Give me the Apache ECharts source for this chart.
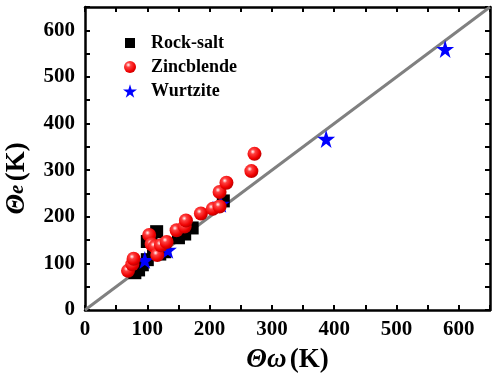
<!DOCTYPE html>
<html>
<head>
<meta charset="utf-8">
<script src="https://cdn.jsdelivr.net/npm/echarts@6/dist/echarts.min.js"></script>
<style>html,body{margin:0;padding:0;background:#fff}#c{width:500px;height:374px}</style>
</head>
<body>
<div id="c"></div>
<script>
var rockSalt = [[80,80],[86,86],[92,97],[100,108],[100,147],[106,152],[115,168],[110,130],[120,120],[128,125],[150,155],[160,163],[172,176],[222,234]];
var zincblende = [[69,84],[76,98],[78,110],[103,161],[107,141],[112,136],[116,118],[122,139],[131,146],[147,171],[160,179],[162,192],[186,207],[205,217],[216,222],[216,253],[227,273],[267,298],[272,335]];
var wurtzite = [[96,107],[133,129],[218,228],[387,367],[578,560]];
var diagonal = [[0,0],[650,650]];
var seriesNames = ['Rock-salt','Zincblende','Wurtzite'];

var serif = '"Liberation Serif","DejaVu Serif",serif';
var star = 'path://M50,0 L61,35 L98,35 L68,57 L79,91 L50,70 L21,91 L32,57 L2,35 L39,35 Z';
var legendSquare = 'path://M0,0 M14,14 M2,2 L12,2 L12,12 L2,12 Z';
var legendCircle = 'path://M0,0 M14,14 M13,7 A6,6 0 1 1 1,7 A6,6 0 1 1 13,7 Z';
var sphere = {type:'radial', x:0.38, y:0.35, r:0.7, colorStops:[{offset:0,color:'#ffffff'},{offset:0.25,color:'#ff4040'},{offset:0.7,color:'#ee0000'},{offset:1,color:'#b00000'}]};

var axisCommon = {
  min:0, max:650, interval:50,
  axisLine:{show:true, onZero:false, lineStyle:{color:'#000', width:2.5}},
  axisTick:{show:true, inside:true, length:5, lineStyle:{color:'#000', width:2}},
  splitLine:{show:false}
};
function lbl(show){
  return {show:show, color:'#000', fontFamily:serif, fontWeight:'bold', fontSize:21,
    formatter:function(v){return v%100===0 ? String(v) : '';}};
}
var italic = {fontFamily:serif, fontStyle:'italic', fontWeight:'bold', fontSize:27, color:'#000'};
var normal = {fontFamily:serif, fontWeight:'bold', fontSize:27, color:'#000'};

var chart = echarts.init(document.getElementById('c'), null, {renderer:'canvas'});
chart.setOption({
  animation:false,
  grid:{left:85, right:10, top:7, bottom:64, containLabel:false, outerBoundsMode:'none'},
  legend:{
    data:[{name:seriesNames[0], icon:legendSquare},{name:seriesNames[1], icon:legendCircle},{name:seriesNames[2], icon:star}],
    orient:'vertical', left:118, top:29, itemWidth:14, itemHeight:14, itemGap:6,
    textStyle:{fontFamily:serif, fontWeight:'bold', fontSize:18, lineHeight:18, color:'#000', padding:[0,0,0,9]}
  },
  xAxis:[
    Object.assign({type:'value', position:'bottom', axisLabel:Object.assign(lbl(true),{margin:9}),
      name:'{i|Θ}{i|ω} {n|(K)}', nameLocation:'middle', nameGap:37,
      nameTextStyle:{rich:{i:italic, n:normal}}
    }, axisCommon),
    Object.assign({type:'value', position:'top', axisLabel:lbl(false)}, axisCommon)
  ],
  yAxis:[
    Object.assign({type:'value', position:'left', axisLabel:Object.assign(lbl(true),{margin:10}),
      name:'{i|Θ}{s|e} {n|(K)}', nameLocation:'middle', nameGap:54,
      nameTextStyle:{padding:[0,40,0,0], rich:{i:italic, s:{fontFamily:serif, fontStyle:'italic', fontWeight:'bold', fontSize:21, color:'#000'}, n:normal}}
    }, axisCommon),
    Object.assign({type:'value', position:'right', axisLabel:lbl(false)}, axisCommon)
  ],
  series:[
    {type:'line', data:diagonal, symbol:'none', silent:true, lineStyle:{color:'#808080', width:3}, z:1},
    {name:seriesNames[0], type:'scatter', data:rockSalt, symbol:'rect', symbolSize:13, itemStyle:{color:'#000', opacity:1}, emphasis:{disabled:true}, z:2},
    {name:seriesNames[2], type:'scatter', data:wurtzite, symbol:star, symbolSize:18, itemStyle:{color:'#0000ff', opacity:1}, emphasis:{disabled:true}, z:3},
    {name:seriesNames[1], type:'scatter', data:zincblende, symbol:'circle', symbolSize:14, itemStyle:{color:sphere, opacity:1}, emphasis:{disabled:true}, z:4}
  ]
});
</script>
</body>
</html>
